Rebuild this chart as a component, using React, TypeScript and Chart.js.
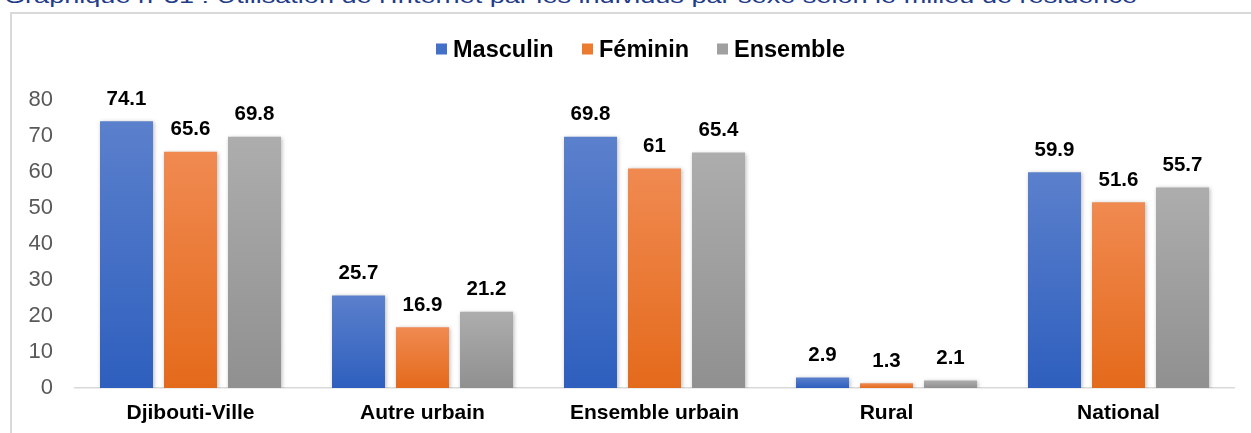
import React, { useEffect, useRef } from "react";
import { Chart, registerables } from "chart.js";

Chart.register(...registerables);

const titleText = "Graphique n°31 : Utilisation de l'Internet par les individus par sexe selon le milieu de résidence";
const categories = ["Djibouti-Ville", "Autre urbain", "Ensemble urbain", "Rural", "National"];
const seriesNames = ["Masculin", "Féminin", "Ensemble"];
const masculin = [74.1, 25.7, 69.8, 2.9, 59.9];
const feminin = [65.6, 16.9, 61, 1.3, 51.6];
const ensemble = [69.8, 21.2, 65.4, 2.1, 55.7];
const yMin = 0;
const yMax = 80;
const yStep = 10;

const FONT = "'Liberation Sans', Arial, sans-serif";

const gradientFill = (top: string, bottom: string) => (ctx: any) => {
  const chart = ctx.chart;
  const y = chart.scales && chart.scales.y;
  if (!chart.chartArea || !y || ctx.type !== "data") return bottom;
  const yTop = y.getPixelForValue(ctx.raw);
  const yBot = y.getPixelForValue(0);
  if (!isFinite(yTop) || !isFinite(yBot) || yBot - yTop < 1) return bottom;
  const g = chart.ctx.createLinearGradient(0, yTop, 0, yBot);
  g.addColorStop(0, top);
  g.addColorStop(1, bottom);
  return g;
};

const shadowPlugin = {
  id: "barShadow",
  beforeDatasetsDraw(chart: any) {
    const c = chart.ctx;
    c.save();
    c.shadowColor = "rgba(0,0,0,0.28)";
    c.shadowBlur = 4;
    c.shadowOffsetX = 1;
    c.shadowOffsetY = 1;
  },
  afterDatasetsDraw(chart: any) {
    chart.ctx.restore();
  },
};

const valueLabels = {
  id: "valueLabels",
  afterDatasetsDraw(chart: any) {
    const c = chart.ctx;
    c.save();
    c.font = `bold 20.5px ${FONT}`;
    c.fillStyle = "#000000";
    c.textAlign = "center";
    c.textBaseline = "middle";
    chart.data.datasets.forEach((ds: any, i: number) => {
      const meta = chart.getDatasetMeta(i);
      meta.data.forEach((el: any, j: number) => {
        c.fillText(String(ds.data[j]), el.x, el.y - 22);
      });
    });
    c.restore();
  },
};

const legendItems = [
  { label: seriesNames[0], color: "#4371C8", left: 436 },
  { label: seriesNames[1], color: "#EC7A2F", left: 582 },
  { label: seriesNames[2], color: "#A0A0A0", left: 717 },
];

export default function App() {
  const ref = useRef<HTMLCanvasElement | null>(null);

  useEffect(() => {
    if (!ref.current) return;
    const chart = new Chart(ref.current, {
      type: "bar",
      data: {
        labels: categories,
        datasets: [
          { label: seriesNames[0], data: masculin, backgroundColor: gradientFill("#5B80CC", "#2E5FBE") },
          { label: seriesNames[1], data: feminin, backgroundColor: gradientFill("#F08A51", "#E46A1B") },
          { label: seriesNames[2], data: ensemble, backgroundColor: gradientFill("#ADADAD", "#909090") },
        ],
      },
      options: {
        animation: false,
        responsive: false,
        maintainAspectRatio: false,
        layout: { padding: { top: 100, left: 0, right: 16.5, bottom: 0 } },
        datasets: { bar: { categoryPercentage: 0.8276, barPercentage: 0.828 } },
        plugins: {
          legend: { display: false },
          title: { display: false },
          tooltip: { enabled: false },
        },
        scales: {
          x: {
            grid: { display: false, drawTicks: false },
            border: { display: true, color: "#D9D9D9", width: 1.5 },
            ticks: { color: "#000000", font: { family: FONT, size: 21, weight: "bold" }, padding: 13, maxRotation: 0, autoSkip: false },
            afterFit: (s: any) => { s.height = 45; },
          },
          y: {
            min: yMin,
            max: yMax,
            grid: { display: false, drawTicks: false },
            border: { display: false },
            ticks: { stepSize: yStep, color: "#595959", font: { family: FONT, size: 22 }, padding: 21.5 },
            afterFit: (s: any) => { s.width = 74.5; },
          },
        },
      },
      plugins: [shadowPlugin, valueLabels],
    });
    return () => chart.destroy();
  }, []);

  return (
    <div style={{ position: "absolute", left: 0, top: 0, width: 1251, height: 433, background: "#ffffff", overflow: "hidden" }}>
      <svg width={1251} height={12} style={{ position: "absolute", left: 0, top: 0 }}>
        <text x={4} y={3} textLength={1133} lengthAdjust="spacingAndGlyphs" fontSize={20} fill="#1F3C88" fontFamily={FONT}>
          {titleText}
        </text>
      </svg>
      <div style={{ position: "absolute", left: 10, top: 12, width: 1300, height: 500, borderLeft: "2px solid #D9D9D9", borderTop: "2px solid #D9D9D9", boxSizing: "border-box" }} />
      <canvas ref={ref} width={1251} height={433} style={{ position: "absolute", left: 0, top: 0, width: 1251, height: 433 }} />
      {legendItems.map((it) => (
        <div key={it.label} style={{ position: "absolute", left: it.left, top: 49, transform: "translateY(-50%)", display: "flex", alignItems: "center", fontFamily: FONT, fontWeight: "bold", fontSize: 23.5, color: "#000", whiteSpace: "nowrap" }}>
          <span style={{ display: "inline-block", width: 11, height: 11, background: it.color, marginRight: 6 }} />
          <span>{it.label}</span>
        </div>
      ))}
    </div>
  );
}
